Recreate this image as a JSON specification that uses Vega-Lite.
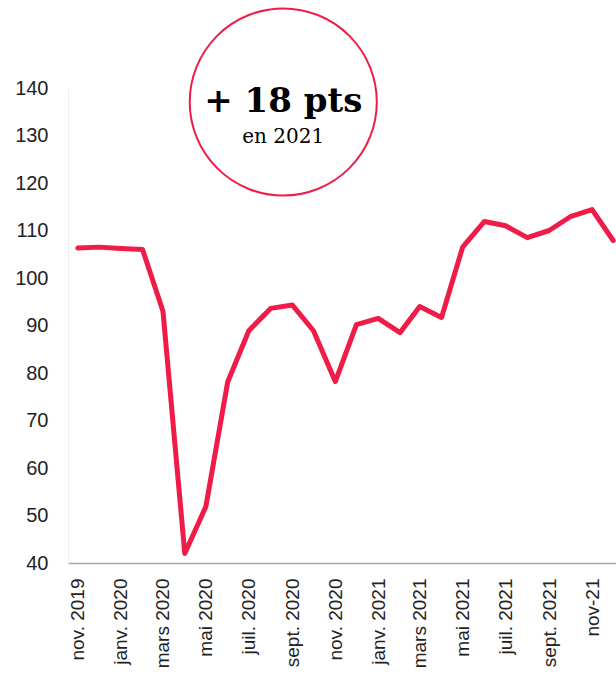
{
  "$schema": "https://vega.github.io/schema/vega-lite/v6.json",
  "width": 548,
  "height": 475,
  "autosize": {"type": "none"},
  "padding": {"left": 68, "top": 88, "right": 0, "bottom": 117},
  "background": "white",
  "config": {
    "view": {"stroke": null},
    "font": "Liberation Sans"
  },
  "datasets": {
    "serie": [
      {"mois": "2019-11-01", "valeur": 106.3},
      {"mois": "2019-12-01", "valeur": 106.5},
      {"mois": "2020-01-01", "valeur": 106.2},
      {"mois": "2020-02-01", "valeur": 106.0},
      {"mois": "2020-03-01", "valeur": 93.0},
      {"mois": "2020-04-01", "valeur": 42.0},
      {"mois": "2020-05-01", "valeur": 51.9},
      {"mois": "2020-06-01", "valeur": 78.1},
      {"mois": "2020-07-01", "valeur": 88.9},
      {"mois": "2020-08-01", "valeur": 93.6},
      {"mois": "2020-09-01", "valeur": 94.3},
      {"mois": "2020-10-01", "valeur": 88.9},
      {"mois": "2020-11-01", "valeur": 78.2},
      {"mois": "2020-12-01", "valeur": 90.2},
      {"mois": "2021-01-01", "valeur": 91.5},
      {"mois": "2021-02-01", "valeur": 88.5},
      {"mois": "2021-03-01", "valeur": 94.0},
      {"mois": "2021-04-01", "valeur": 91.7},
      {"mois": "2021-05-01", "valeur": 106.5},
      {"mois": "2021-06-01", "valeur": 111.9},
      {"mois": "2021-07-01", "valeur": 111.0},
      {"mois": "2021-08-01", "valeur": 108.5},
      {"mois": "2021-09-01", "valeur": 110.0},
      {"mois": "2021-10-01", "valeur": 112.9},
      {"mois": "2021-11-01", "valeur": 114.4},
      {"mois": "2021-12-01", "valeur": 107.9}
    ],
    "annotation": [
      {"mois": "2020-08-19", "valeur": 137.05, "titre": "+ 18 pts", "titreY": 135.0, "sous": "en 2021", "sousY": 128.35}
    ]
  },
  "layer": [
    {
      "data": {"name": "serie"},
      "mark": {"type": "line", "color": "#EE1C47", "strokeWidth": 5, "strokeCap": "round", "strokeJoin": "round", "clip": false},
      "encoding": {
        "x": {
          "field": "mois",
          "type": "temporal",
          "scale": {"type": "utc", "domain": ["2019-10-18", "2021-12-05"]},
          "axis": {
            "title": null,
            "values": [
              {"year": 2019, "month": 11, "date": 1, "utc": true},
              {"year": 2020, "month": 1, "date": 1, "utc": true},
              {"year": 2020, "month": 3, "date": 1, "utc": true},
              {"year": 2020, "month": 5, "date": 1, "utc": true},
              {"year": 2020, "month": 7, "date": 1, "utc": true},
              {"year": 2020, "month": 9, "date": 1, "utc": true},
              {"year": 2020, "month": 11, "date": 1, "utc": true},
              {"year": 2021, "month": 1, "date": 1, "utc": true},
              {"year": 2021, "month": 3, "date": 1, "utc": true},
              {"year": 2021, "month": 5, "date": 1, "utc": true},
              {"year": 2021, "month": 7, "date": 1, "utc": true},
              {"year": 2021, "month": 9, "date": 1, "utc": true},
              {"year": 2021, "month": 11, "date": 1, "utc": true}
            ],
            "labelExpr": "(utcyear(datum.value) == 2021 && utcmonth(datum.value) == 10) ? 'nov-21' : ['janv.','févr.','mars','avr.','mai','juin','juil.','août','sept.','oct.','nov.','déc.'][utcmonth(datum.value)] + ' ' + utcyear(datum.value)",
            "labelAngle": -90,
            "labelAlign": "right",
            "labelBaseline": "middle",
            "labelFontSize": 19,
            "labelColor": "#222222",
            "labelPadding": 15,
            "labelOverlap": false,
            "labelFlush": false,
            "ticks": false,
            "grid": false,
            "domainColor": "#a6a6a6",
            "domainWidth": 1.5
          }
        },
        "y": {
          "field": "valeur",
          "type": "quantitative",
          "scale": {"domain": [40, 140], "nice": false, "zero": false},
          "axis": {
            "title": null,
            "values": [40, 50, 60, 70, 80, 90, 100, 110, 120, 130, 140],
            "labelFontSize": 20,
            "labelColor": "#222222",
            "labelPadding": 20,
            "ticks": false,
            "grid": false,
            "domainColor": "#eeeeee",
            "domainWidth": 1
          }
        }
      }
    },
    {
      "data": {"name": "annotation"},
      "mark": {"type": "point", "shape": "circle", "size": 35000, "stroke": "#EE1C47", "strokeWidth": 2, "opacity": 1, "fill": "white", "fillOpacity": 1, "filled": false, "clip": false},
      "encoding": {
        "x": {"field": "mois", "type": "temporal"},
        "y": {"field": "valeur", "type": "quantitative"}
      }
    },
    {
      "data": {"name": "annotation"},
      "mark": {"type": "text", "font": "DejaVu Serif", "fontWeight": "bold", "fontSize": 34, "color": "#000000", "align": "center", "baseline": "alphabetic", "clip": false},
      "encoding": {
        "x": {"field": "mois", "type": "temporal"},
        "y": {"field": "titreY", "type": "quantitative"},
        "text": {"field": "titre"}
      }
    },
    {
      "data": {"name": "annotation"},
      "mark": {"type": "text", "font": "DejaVu Serif", "fontSize": 20, "color": "#000000", "align": "center", "baseline": "alphabetic", "clip": false},
      "encoding": {
        "x": {"field": "mois", "type": "temporal"},
        "y": {"field": "sousY", "type": "quantitative"},
        "text": {"field": "sous"}
      }
    }
  ]
}
